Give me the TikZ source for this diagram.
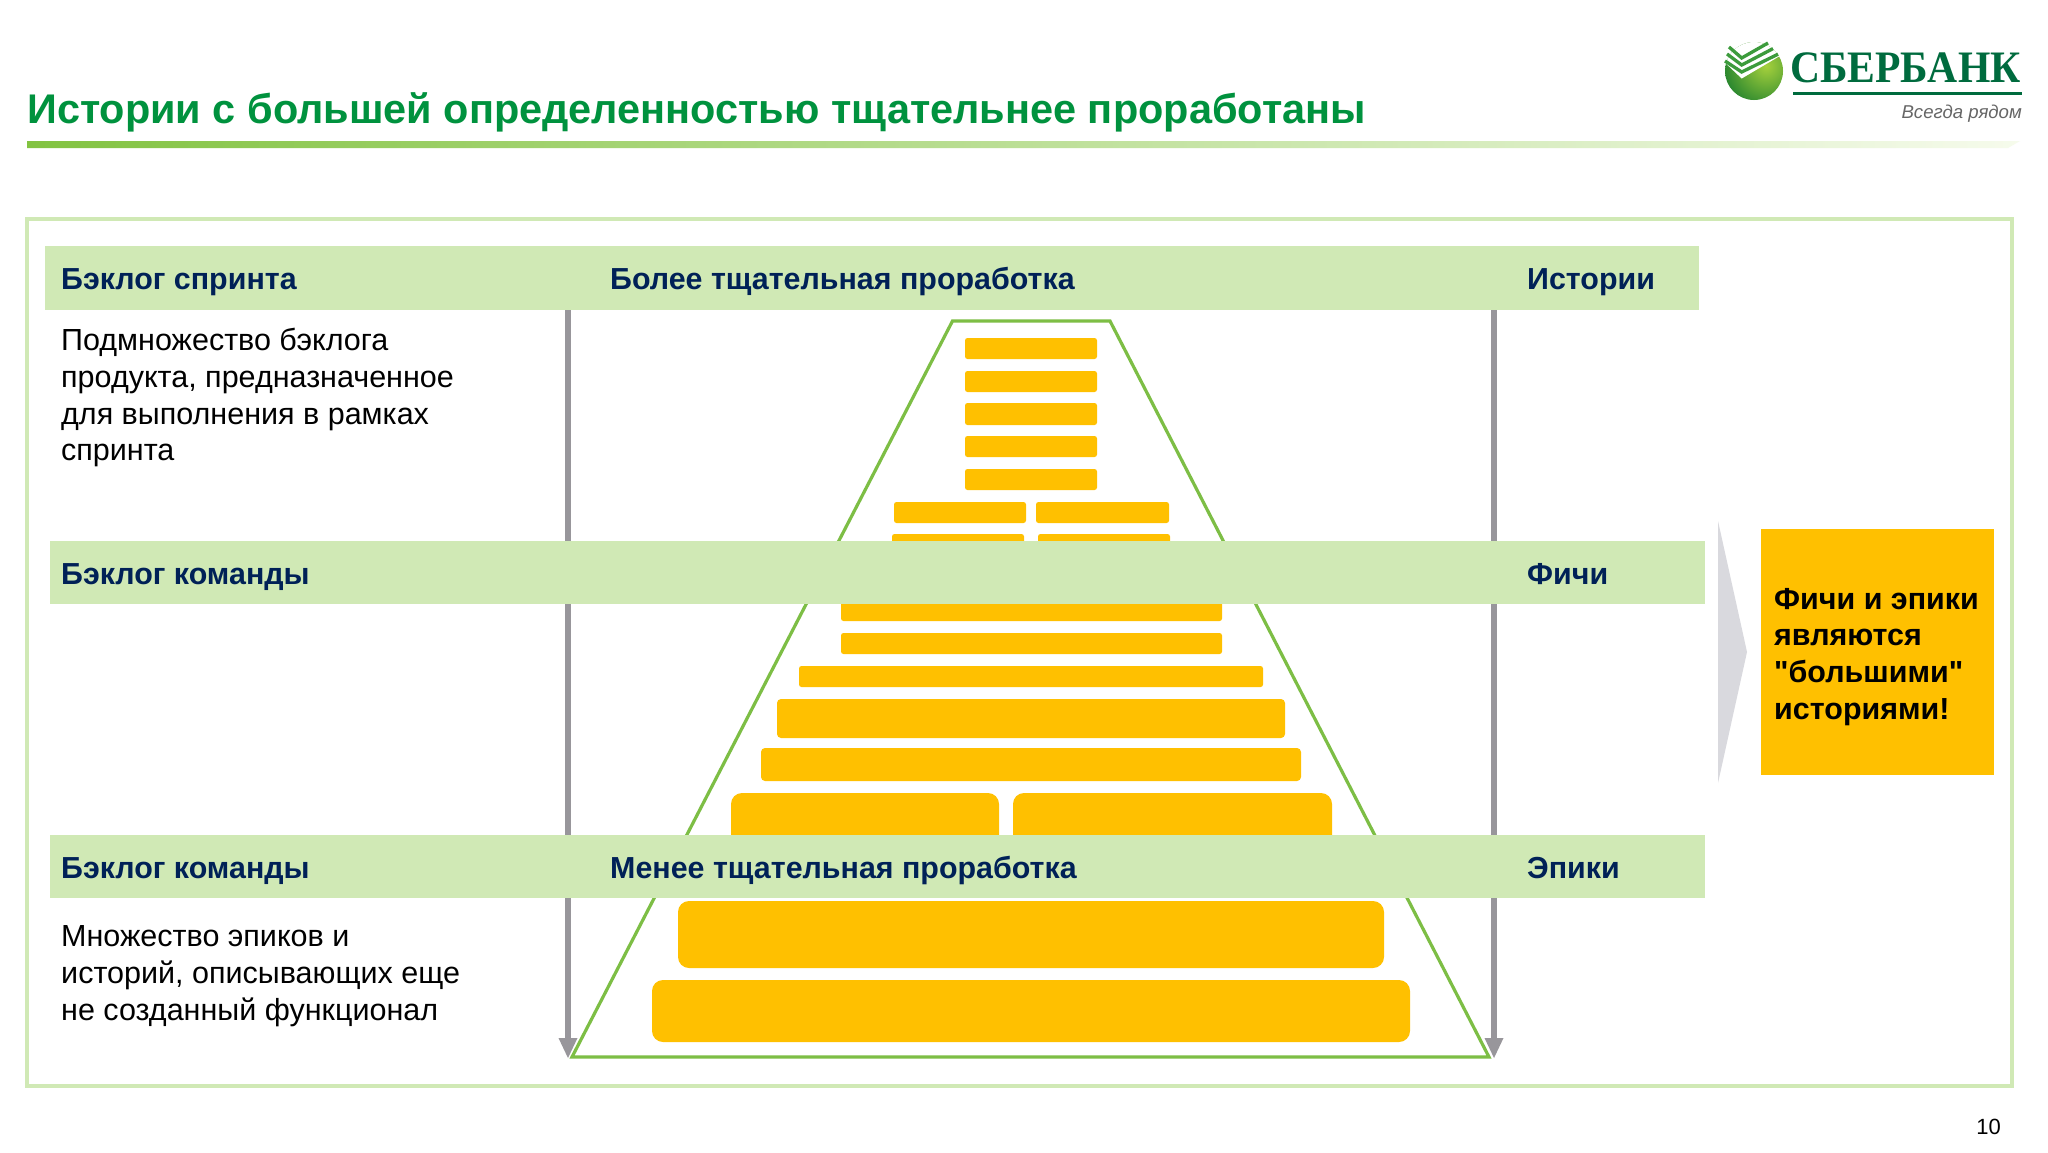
\documentclass[tikz,border=0pt]{standalone}
\usepackage{fontspec}
\setmainfont{Liberation Sans}
\newfontfamily\logofont{Liberation Serif}
\newfontfamily\quotefont{Liberation Sans}
\usetikzlibrary{positioning}
\definecolor{sbgreen}{RGB}{0,146,62}
\definecolor{sbdark}{RGB}{0,107,62}
\definecolor{sbnavy}{RGB}{0,33,87}
\definecolor{barlight}{RGB}{208,233,181}
\definecolor{linegreen}{RGB}{125,190,69}
\definecolor{ruleleft}{RGB}{130,195,65}
\definecolor{ruleright}{RGB}{246,251,236}
\definecolor{storyyellow}{RGB}{255,192,0}
\definecolor{axisgrey}{RGB}{152,150,155}
\definecolor{chevgrey}{RGB}{217,217,222}
\definecolor{ballin}{RGB}{165,208,60}
\definecolor{ballout}{RGB}{25,125,45}
\definecolor{stripe}{RGB}{60,155,60}
\tikzset{
  backlogbar/.style={fill=barlight},
  storybox/.style={fill=storyyellow,rounded corners=2.5pt},
  featurebox/.style={fill=storyyellow,rounded corners=4pt},
  epicbox/.style={fill=storyyellow,rounded corners=11pt},
  axisline/.style={draw=axisgrey,line width=5.5pt},
  axishead/.style={fill=axisgrey},
  headtext/.style={anchor=base west,inner sep=0pt,text=sbnavy,font=\fontsize{30.4}{36.7}\selectfont\bfseries},
  bodytext/.style={anchor=north west,inner sep=0pt,align=left,font=\fontsize{30.5}{36.7}\selectfont},
}
\begin{document}
\begin{tikzpicture}[x=1pt,y=-1pt]
  \useasboundingbox (0,0) rectangle (2048,1152);
  \fill[white] (0,0) rectangle (2048,1152);

  % title and rule
  \node[anchor=base west,inner sep=0pt,text=sbgreen,font=\fontsize{41.45}{47}\selectfont\bfseries] (title) at (27,123)
    {Истории с большей определенностью тщательнее проработаны};
  \shade[left color=ruleleft,right color=ruleright] (27,141) -- (2020,141) -- (2008,148) -- (27,148) -- cycle;

  % logo
  \begin{scope}
    \clip (1754,71) circle (29);
    \shade[inner color=ballin,outer color=ballout] (1766,66) circle (48);
    \fill[white] (1720,58) -- (1741.7,78.5) -- (1790,50) -- (1790,30) -- (1720,30) -- cycle;
  \end{scope}
  \foreach \dy/\dx in {0/0,7/5,14/10}
    \draw[stripe,line width=3.3pt] (1729-\dx*0.4,\dy+47) -- (1741.7,\dy+58) -- (1768+\dx,43+\dy*0.8);

  \node[anchor=base west,inner sep=0pt,text=sbdark] (logoname) at (1790,82)
    {\scalebox{0.925}[1]{\logofont\bfseries\fontsize{45}{50}\selectfont СБЕРБАНК}};
  \draw[sbdark,line width=3pt] (1793,93) -- (2022,93);
  \node[anchor=base east,inner sep=0pt,text=black!60,font=\fontsize{18.6}{22}\selectfont\itshape] (logotag) at (2022,118) {Всегда рядом};

  % outer frame
  \draw[barlight,line width=3.2pt] (27,219) rectangle (2012,1086);

  % axes
  \coordinate (axisLtop) at (568,310);
  \coordinate (axisLend) at (568,1041);
  \coordinate (axisRtop) at (1494,310);
  \coordinate (axisRend) at (1494,1041);
  \draw[axisline] (axisLtop) -- (axisLend);
  \draw[axisline] (axisRtop) -- (axisRend);
  \fill[axishead] (558.5,1038) -- (577.5,1038) -- (568,1058) -- cycle;
  \fill[axishead] (1484.5,1038) -- (1503.5,1038) -- (1494,1058) -- cycle;

  % pyramid
  \draw[linegreen,line width=3.2pt,line join=miter] (952.5,321) -- (1110,321) -- (1489,1057) -- (572,1057) -- cycle;

  % stories
  \foreach \ya/\yb in {338/359,371/392,403/425,436/457,469/490}
    \fill[storybox] (965,\ya) rectangle (1097,\yb);
  \fill[storybox] (894,502) rectangle (1026,523);
  \fill[storybox] (1036,502) rectangle (1169,523);
  \fill[storybox] (892,534) rectangle (1024,556);
  \fill[storybox] (1038,534) rectangle (1170,556);
  \fill[storybox] (841,600) rectangle (1222,621);
  \fill[storybox] (841,633) rectangle (1222,654);
  \fill[storybox] (799,666) rectangle (1263,687);
  % features
  \fill[featurebox] (777,699) rectangle (1285,738);
  \fill[featurebox] (761,748) rectangle (1301,781);
  % epics
  \fill[epicbox] (731,793) rectangle (999,860);
  \fill[epicbox] (1013,793) rectangle (1332,860);
  \fill[epicbox] (678,901) rectangle (1384,968);
  \fill[epicbox] (652,980) rectangle (1410,1042);

  % header bars
  \fill[backlogbar] (45,246) rectangle (1699,310);
  \fill[backlogbar] (50,541) rectangle (1705,604);
  \fill[backlogbar] (50,835) rectangle (1705,898);

  \node[headtext] (sprint) at (61,289.5) {Бэклог спринта};
  \node[headtext] (more) at (610,289.5) {Более тщательная проработка};
  \node[headtext] (stories) at (1527,289.5) {Истории};
  \node[headtext] (team) at (61,584) {Бэклог команды};
  \node[headtext] (features) at (1527,584) {Фичи};
  \node[headtext] (teamb) at (61,878) {Бэклог команды};
  \node[headtext] (less) at (610,878) {Менее тщательная проработка};
  \node[headtext] (epics) at (1527,878) {Эпики};

  \node[bodytext] (sprintnote) at (61,328.2) {Подмножество бэклога\\продукта, предназначенное\\для выполнения в рамках\\спринта};
  \node[bodytext] (teamnote) at (61,925.7) {Множество эпиков и\\историй, описывающих еще\\не созданный функционал};

  % callout
  \fill[chevgrey] (1718,521) -- (1747,652) -- (1718,783) -- cycle;
  \fill[storyyellow] (1761,529) rectangle (1994,775);
  \node[anchor=north west,inner sep=0pt,align=left,font=\fontsize{30.45}{36.7}\quotefont\selectfont\bfseries] (callout) at (1774,587.7)
    {Фичи и эпики\\являются\\"большими"\\историями!};

  \node[anchor=base east,inner sep=0pt,font=\fontsize{22}{26}\selectfont] (pageno) at (2001,1134) {10};
\end{tikzpicture}
\end{document}
